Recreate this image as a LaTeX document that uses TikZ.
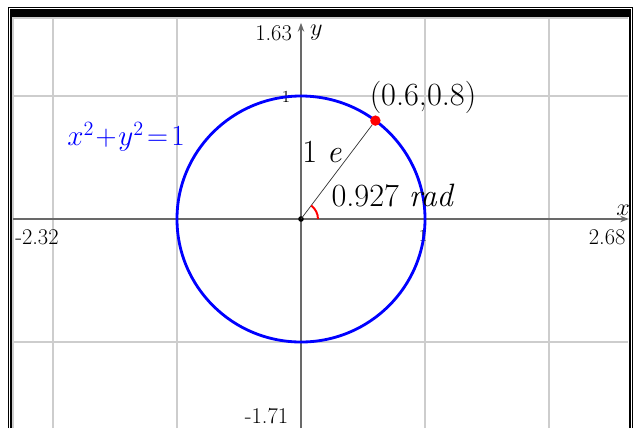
\documentclass[tikz,border=0pt]{standalone}
\usepackage{amsmath,amssymb}
\usepackage{xcolor}
\usepackage{tikz}
\usetikzlibrary{arrows.meta,positioning,calc}
\definecolor{gridgray}{RGB}{205,205,205}
\definecolor{axisgray}{RGB}{105,105,105}
\definecolor{curveblue}{RGB}{0,0,255}
\definecolor{ptred}{RGB}{255,0,0}

\begin{document}
\begin{tikzpicture}[x=3.1cm, y=3.075cm, >={Stealth[length=2.2mm, width=1.6mm]},
  grid/.style={draw=gridgray, line width=0.8pt},
  axis/.style={draw=axisgray, line width=1pt, ->},
  tick/.style={font=\fontsize{16}{18}\selectfont, inner sep=1pt},
  small/.style={font=\fontsize{12}{14}\selectfont, inner sep=0pt},
  lbl/.style={font=\fontsize{23}{26}\selectfont, inner sep=1pt},
  dot/.style={circle, fill, inner sep=0pt, minimum size=1.4mm}]
\useasboundingbox (-2.4274,-1.6992) rectangle (2.6935,1.7805);
%% frame of the window
\draw[line width=0.6pt] (-2.3629,-1.70) -- (-2.3629,1.7236) -- (2.6694,1.7236) -- (2.6694,-1.70);
\fill (-2.3468,1.6423) rectangle (2.6613,1.7073);
\draw[line width=1.1pt] (-2.3387,-1.70) -- (-2.3387,1.66);
\draw[line width=1.8pt] (2.6532,-1.70) -- (2.6532,1.66);
\draw[gridgray, line width=0.8pt] (-2.3226,-1.70) -- (-2.3226,1.6341) -- (2.64,1.6341);
%% grid
\foreach \gx in {-2,-1,1,2} \draw[grid] (\gx,-1.70) -- (\gx,1.6341);
\foreach \gy in {-1,1} \draw[grid] (-2.3226,\gy) -- (2.64,\gy);
%% axes
\coordinate (xl) at (-2.3226,0);
\coordinate (xr) at (2.645,0);
\coordinate (yb) at (0,-1.70);
\coordinate (yt) at (0,1.595);
\draw[axis] (xl) -- (xr);
\draw[axis] (yb) -- (yt);
\node[tick, anchor=east] (ymax) at (-0.06,1.512) {1.63};
\node[tick, anchor=west] (ylab) at (0.06,1.512) {$y$};
\node[tick] (xlab) at (2.597,0.07) {$x$};
\node[tick, anchor=east] (xmax) at (2.63,-0.146) {2.68};
\node[tick, anchor=west] (xmin) at (-2.318,-0.146) {-2.32};
\node[tick, anchor=east] (ymin) at (-0.09,-1.60) {-1.71};
\node[small] (yone) at (-0.121,0.992) {1};
\node[small] (xone) at (0.984,-0.138) {1};
%% unit circle
\draw[curveblue, line width=2pt] (0,0) circle[x radius=1, y radius=1];
\node[lbl, text=curveblue, font=\fontsize{21}{24}\selectfont] (eq) at (-1.411,0.667) {$x^{2}\!+\!y^{2}\!=\!1$};
%% radius and angle
\node[dot] (O) at (0,0) {};
\node[dot, fill=ptred, minimum size=2.6mm] (P) at (0.6,0.8) {};
\draw[black!80, line width=0.5pt] (O.center) -- (P);
\draw[ptred, line width=1.4pt] ($(O.center)+(0.137,0)$) arc[start angle=0, end angle=53.13, x radius=0.137, y radius=0.137];
\node[lbl] (pt) at (0.984,0.992) {(0.6,0.8)};
\node[lbl] (len) at (0.169,0.545) {1 \textit{e}};
\node[lbl] (ang) at (0.742,0.187) {0.927 \textit{rad}};
\end{tikzpicture}
\end{document}
